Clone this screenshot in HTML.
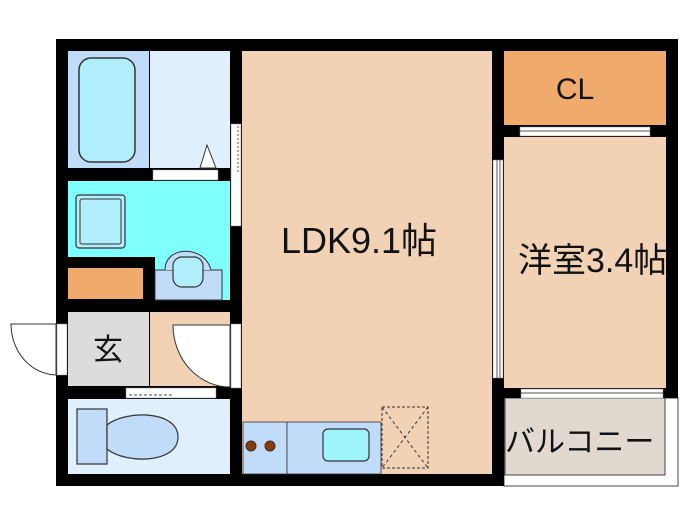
<!DOCTYPE html>
<html><head><meta charset="utf-8"><style>
body{margin:0;background:#fff;width:700px;height:525px;overflow:hidden}
svg text{font-family:"Liberation Sans","Noto Sans CJK JP",sans-serif;fill:#111}
</style></head><body>
<svg width="700" height="525" viewBox="0 0 700 525">
<rect x="504" y="398" width="174" height="88" fill="#fff" stroke="#444" stroke-width="1"/>
<rect x="505" y="398" width="160" height="77" fill="#e1d9d0" stroke="#444" stroke-width="1"/>
<rect x="56" y="39" width="622" height="359" fill="#000"/>
<rect x="56" y="39" width="448" height="447" fill="#000"/>
<rect x="242" y="51" width="250" height="423" fill="#f2d2b4"/>
<rect x="504" y="51" width="162" height="74" fill="#f0aa6c"/>
<rect x="504" y="137" width="162" height="251" fill="#f2d2b4"/>
<rect x="68" y="51" width="81" height="117" fill="#c0dcf8"/>
<rect x="79" y="58" width="56" height="104" rx="12" fill="#b0eefc" stroke="#333" stroke-width="1.5"/>
<rect x="150" y="51" width="80" height="117" fill="#dff0fc"/>
<polygon points="207,145 200,168 216,168" fill="#fff" stroke="#333"/>
<rect x="153" y="170" width="65" height="10" fill="#fff" stroke="#999" stroke-width=".5"/>
<path d="M68 181H230V300H155V257H68Z" fill="#80ffff"/>
<rect x="76" y="195" width="49" height="53" rx="3" fill="#b0eefc" stroke="#333" stroke-width="1.2"/>
<rect x="80" y="199" width="41" height="45" rx="2" fill="none" stroke="#333"/>
<rect x="155" y="270" width="67" height="30" fill="#c0dcf8" stroke="#333" stroke-width="1"/>
<path d="M165 270 C165 245,205 245,211 270" fill="#c0dcf8" stroke="#333"/>
<rect x="173" y="257" width="30" height="30" rx="9" fill="#b0eefc" stroke="#333" stroke-width="1.2"/>
<rect x="68" y="268" width="75" height="31" fill="#f0aa6c"/>
<rect x="231" y="124" width="10" height="102" fill="#fff" stroke="#888" stroke-width=".5"/>
<line x1="238" y1="126" x2="238" y2="172" stroke="#555" stroke-dasharray="2,2"/>
<rect x="68" y="312" width="81" height="74" fill="#dcdcdc"/>
<text x="108" y="360" font-size="30" text-anchor="middle">玄</text>
<rect x="150" y="312" width="80" height="74" fill="#f2d2b4"/>
<path d="M230 325 H173 A57 62 0 0 0 230 387Z" fill="#fff" stroke="#333" stroke-width="1"/>
<rect x="231" y="324" width="10" height="64" fill="#fff" stroke="#888" stroke-width=".5"/>
<path d="M56 324 H11 A46 51 0 0 0 56 375Z" fill="#fff" stroke="#333" stroke-width="1"/>
<rect x="57" y="324" width="10" height="51" fill="#fff" stroke="#888" stroke-width=".5"/>
<rect x="126" y="388" width="90" height="10" fill="#fff" stroke="#888" stroke-width=".5"/>
<line x1="129" y1="395" x2="172" y2="395" stroke="#444" stroke-dasharray="3,2"/>
<rect x="68" y="399" width="162" height="75" fill="#dff0fc"/>
<rect x="77" y="409" width="30" height="55" fill="#c0dcf8" stroke="#333" stroke-width="1.2"/>
<path d="M107 425 C125 410,178 410,178 437 C178 464,125 464,107 449Z" fill="#c0dcf8" stroke="#333" stroke-width="1.2"/>
<rect x="243" y="422" width="44" height="52" fill="#c0dcf8" stroke="#333" stroke-width=".8"/>
<circle cx="251" cy="446" r="5" fill="#8b3a0a" stroke="#333"/>
<circle cx="270" cy="446" r="5" fill="#8b3a0a" stroke="#333"/>
<rect x="287" y="422" width="94" height="52" fill="#c0dcf8" stroke="#333" stroke-width=".8"/>
<rect x="323" y="429" width="46" height="32" rx="5" fill="#9ff4fc" stroke="#333" stroke-width="1.2"/>
<rect x="382" y="407" width="46" height="61" fill="none" stroke="#333" stroke-dasharray="3,2"/>
<path d="M382 407 L428 468 M428 407 L382 468" stroke="#333" stroke-dasharray="3,3"/>
<rect x="493" y="160" width="10" height="218" fill="#fff" stroke="#888" stroke-width=".5"/>
<line x1="497" y1="160" x2="497" y2="378" stroke="#555"/>
<line x1="500" y1="160" x2="500" y2="378" stroke="#555"/>
<rect x="520" y="127" width="130" height="9" fill="#fff" stroke="#888" stroke-width=".5"/>
<line x1="520" y1="131" x2="650" y2="131" stroke="#555"/>
<rect x="521" y="389" width="142" height="9" fill="#fff" stroke="#888" stroke-width=".5"/>
<line x1="521" y1="393" x2="663" y2="393" stroke="#555"/>
<text x="359" y="253" font-size="36" text-anchor="middle">LDK9.1帖</text>
<text x="518" y="272" font-size="34">洋室3.4帖</text>
<text x="575" y="99" font-size="30" text-anchor="middle">CL</text>
<text x="505" y="452" font-size="30">バルコニー</text>
</svg>
</body></html>
